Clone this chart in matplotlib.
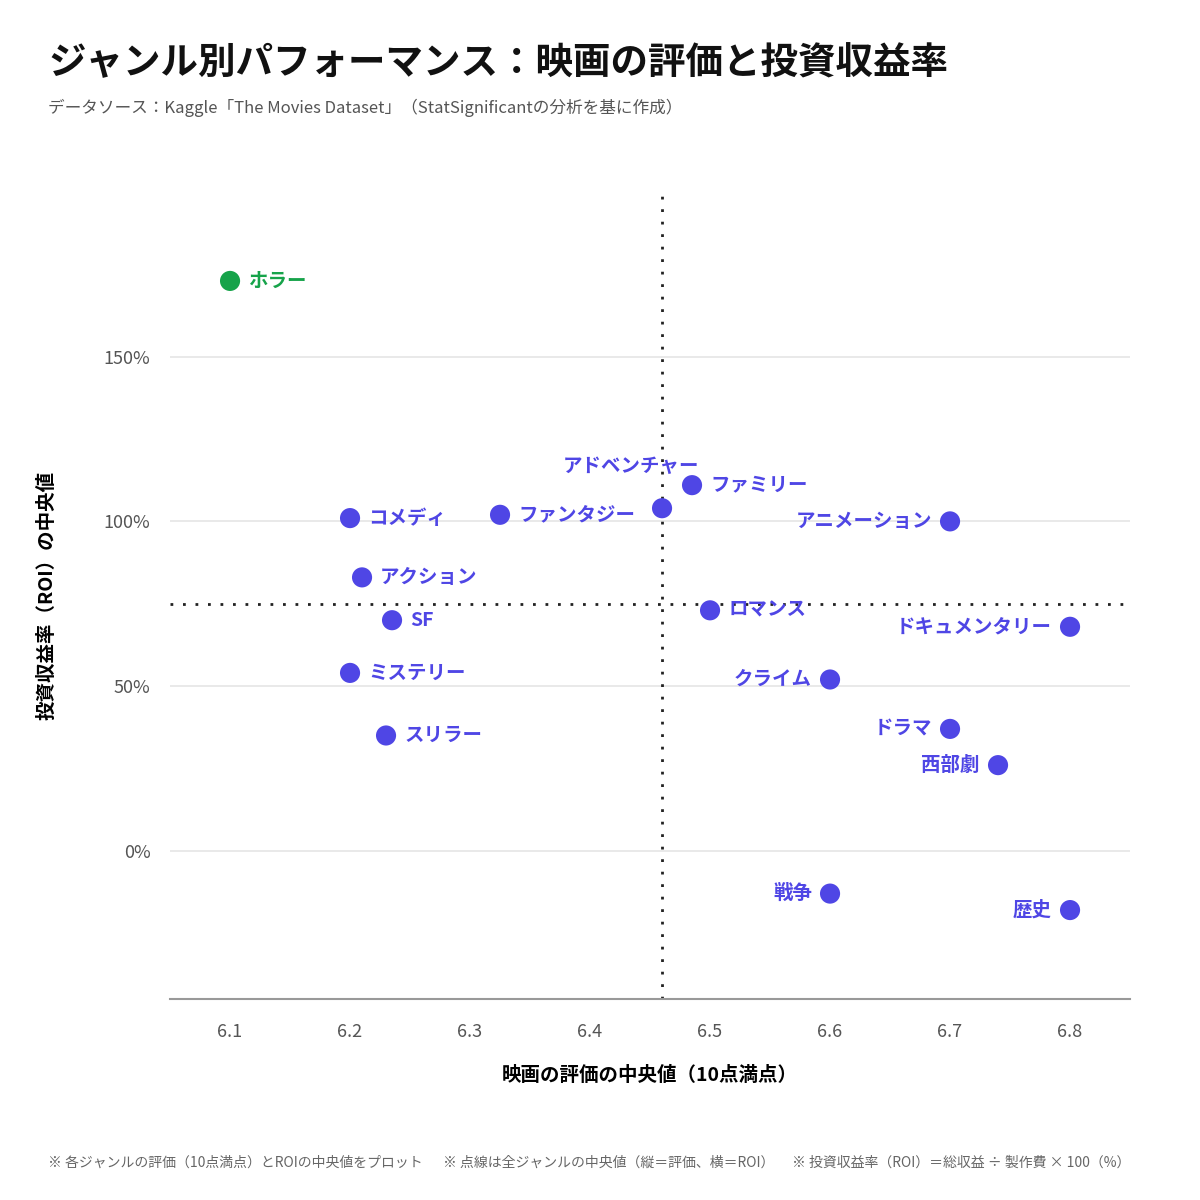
import matplotlib
matplotlib.use("Agg")
import matplotlib.pyplot as plt
from matplotlib.ticker import FuncFormatter

plt.rcParams['font.family'] = ['Noto Sans CJK JP', 'DejaVu Sans']

# ジャンル別データ（評価の中央値, ROIの中央値 %）
genres = ['ホラー', 'コメディ', 'ファンタジー', 'アドベンチャー', 'ファミリー', 'アニメーション',
          'アクション', 'SF', 'ロマンス', 'ドキュメンタリー', 'ミステリー', 'クライム',
          'ドラマ', 'スリラー', '西部劇', '戦争', '歴史']
rating = [6.1, 6.2, 6.325, 6.46, 6.485, 6.7,
          6.21, 6.235, 6.5, 6.8, 6.2, 6.6,
          6.7, 6.23, 6.74, 6.6, 6.8]
roi = [173, 101, 102, 104, 111, 100,
       83, 70, 73, 68, 54, 52,
       37, 35, 26, -13, -18]
label_side = ['right', 'right', 'right', 'top', 'right', 'left',
              'right', 'right', 'right', 'left', 'right', 'left',
              'left', 'right', 'left', 'left', 'left']

median_rating = 6.46
median_roi = 75

purple = '#4F46E5'
green = '#16A34A'

fig = plt.figure(figsize=(12, 12), dpi=100)
ax = fig.add_axes([0.1417, 0.1675, 0.8, 0.6725])

colors = [green if g == 'ホラー' else purple for g in genres]
ax.scatter(rating, roi, s=210, c=colors, zorder=3, linewidths=0)

for g, x, y, side, c in zip(genres, rating, roi, label_side, colors):
    if side == 'right':
        ax.annotate(g, (x, y), xytext=(13, 0), textcoords='offset points',
                    ha='left', va='center', fontsize=14, fontweight='bold', color=c)
    elif side == 'left':
        ax.annotate(g, (x, y), xytext=(-13, 0), textcoords='offset points',
                    ha='right', va='center', fontsize=14, fontweight='bold', color=c)
    else:
        ax.annotate(g, (x, y), xytext=(-22, 30), textcoords='offset points',
                    ha='center', va='center', fontsize=14, fontweight='bold', color=c)

# 中央値の点線
ax.axvline(median_rating, color='#222222', linestyle=(0, (1, 3.5)), linewidth=2, zorder=1)
ax.axhline(median_roi, color='#222222', linestyle=(0, (1, 3.5)), linewidth=2, zorder=1)

ax.set_xlim(6.05, 6.85)
ax.set_ylim(-45, 200)
ax.set_xticks([6.1, 6.2, 6.3, 6.4, 6.5, 6.6, 6.7, 6.8])
ax.set_yticks([0, 50, 100, 150])
ax.yaxis.set_major_formatter(FuncFormatter(lambda v, p: f'{v:.0f}%'))
ax.grid(axis='y', color='#E5E5E5', linewidth=1.2, zorder=0)
ax.set_axisbelow(True)

for s in ['top', 'right', 'left']:
    ax.spines[s].set_visible(False)
ax.spines['bottom'].set_color('#999999')
ax.spines['bottom'].set_linewidth(1.5)
ax.tick_params(axis='both', length=0, labelsize=13, labelcolor='#555555')
ax.tick_params(axis='x', pad=17)
ax.tick_params(axis='y', pad=14)

ax.set_xlabel('映画の評価の中央値（10点満点）', fontsize=14, fontweight='bold', labelpad=18)
ax.set_ylabel('投資収益率（ROI）の中央値', fontsize=14, fontweight='bold', labelpad=34)

fig.text(0.04, 0.948, 'ジャンル別パフォーマンス：映画の評価と投資収益率',
         fontsize=27, fontweight='bold', va='center', color='#111111')
fig.text(0.04, 0.91, 'データソース：Kaggle「The Movies Dataset」（StatSignificantの分析を基に作成）',
         fontsize=12, va='center', color='#555555')

footer = ['※ 各ジャンルの評価（10点満点）とROIの中央値をプロット',
          '※ 点線は全ジャンルの中央値（縦＝評価、横＝ROI）',
          '※ 投資収益率（ROI）＝総収益 ÷ 製作費 × 100（%）']
for fx, t in zip([0.04, 0.369, 0.66], footer):
    fig.text(fx, 0.031, t, fontsize=10, va='center', color='#666666')

fig.savefig('out.png', dpi=100, facecolor='white')
